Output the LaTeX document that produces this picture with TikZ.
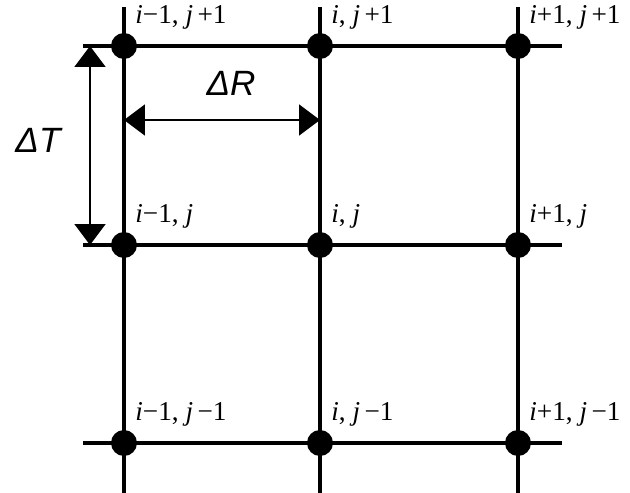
\documentclass[tikz,border=0pt]{standalone}
\usepackage{fontspec}
\setmainfont{Liberation Serif}
\newfontfamily\deltafont{Liberation Sans}
\usetikzlibrary{arrows.meta, calc}

\begin{document}
\begin{tikzpicture}[x=0.02cm, y=-0.02cm,
    >={Triangle[length=0.42cm, width=0.62cm]},
    dot/.style={circle, fill=black, inner sep=0pt, minimum size=0.52cm},
    gridline/.style={line width=2pt},
    dim/.style={<->, line width=1.1pt},
    idx/.style={anchor=base west, inner sep=0pt, font=\fontsize{15.5}{18}\selectfont},
    dlabel/.style={inner sep=0pt, font=\deltafont\itshape\fontsize{20}{24}\selectfont}]

\useasboundingbox (0,0) rectangle (630,493);

% ── mesh points and their indices ─────────────────────────────────
\foreach \c/\x/\ci in {0/124/{\textit{i}−1}, 1/320/{\textit{i}}, 2/518/{\textit{i}+1}}
  \foreach \r/\y/\rj in {0/443/{\textit{j}\,−1}, 1/245/{\textit{j}}, 2/46/{\textit{j}\,+1}} {
    \node[dot] (n\c\r) at (\x,\y) {};
    \node[idx] (l\c\r) at ($(n\c\r)+(11,-22)$) {\ci, \rj};
  }

% ── grid lines ────────────────────────────────────────────────────
\foreach \r in {0,1,2}
  \draw[gridline] ($(n0\r)+(-41,0)$) -- ($(n2\r)+(44,0)$);
\foreach \c in {0,1,2}
  \draw[gridline] ($(n\c2)+(0,-39)$) -- ($(n\c0)+(0,50)$);

% ── step sizes ────────────────────────────────────────────────────
\draw[dim] ($(n02)+(-34,0)$) -- ($(n01)+(-34,0)$);
\node[dlabel] (dT) at ($(n01)+(-86,-105)$) {ΔT};

\draw[dim] ($(n02)+(0,74)$) -- ($(n12)+(0,74)$);
\node[dlabel] (dR) at ($(n02)+(107,37)$) {ΔR};

\end{tikzpicture}
\end{document}
